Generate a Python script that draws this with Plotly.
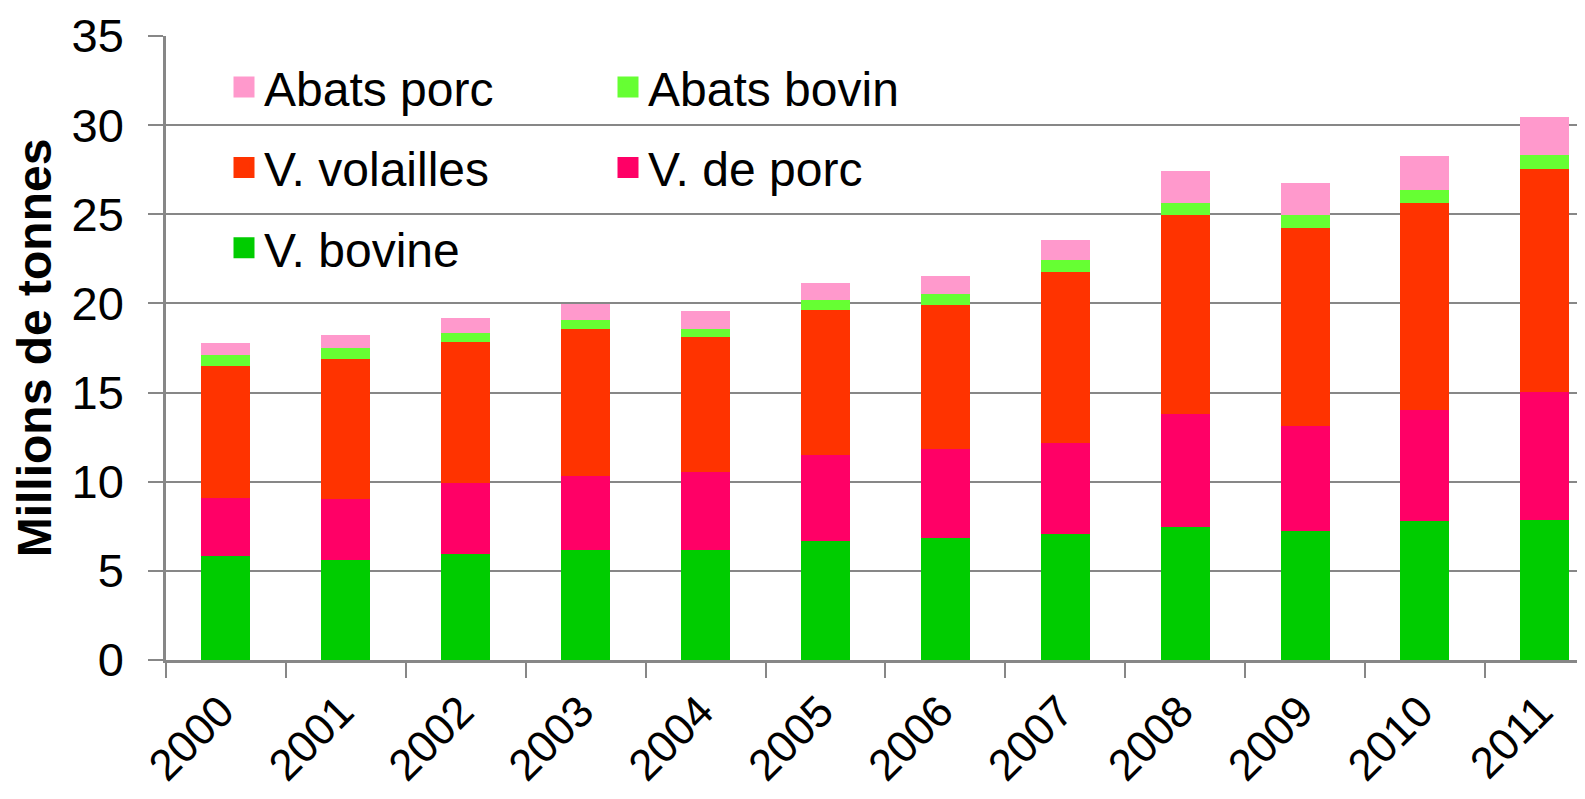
import plotly.graph_objects as go

years = [str(y) for y in range(2000, 2012)]
v_bovine = [5.81, 5.59, 5.96, 6.17, 6.18, 6.67, 6.87, 7.05, 7.47, 7.26, 7.77, 7.86]
v_porc = [3.30, 3.45, 3.99, 4.17, 4.39, 4.83, 4.98, 5.12, 6.35, 5.84, 6.28, 7.19]
v_volailles = [7.39, 7.87, 7.91, 8.23, 7.52, 8.15, 8.06, 9.61, 11.12, 11.14, 11.60, 12.51]
abats_bovin = [0.63, 0.58, 0.48, 0.50, 0.48, 0.52, 0.64, 0.66, 0.67, 0.70, 0.71, 0.77]
abats_porc = [0.65, 0.72, 0.86, 0.91, 1.01, 0.95, 0.97, 1.14, 1.84, 1.80, 1.91, 2.10]

series = [
    ("V. bovine", v_bovine, "#00CC00", "legend5"),
    ("V. de porc", v_porc, "#FF0066", "legend4"),
    ("V. volailles", v_volailles, "#FF3300", "legend3"),
    ("Abats bovin", abats_bovin, "#66FF33", "legend2"),
    ("Abats porc", abats_porc, "#FF99CC", "legend"),
]

FONT = "Liberation Sans, Arial, sans-serif"
GRID = "#878787"

fig = go.Figure()
for name, vals, col, leg in series:
    fig.add_trace(go.Bar(x=years, y=vals, name=name, marker=dict(color=col, line=dict(width=0)),
                         showlegend=False))
for name, vals, col, leg in series:
    fig.add_trace(go.Scatter(x=[None], y=[None], mode="markers", name=name, legend=leg,
                             marker=dict(symbol="square", size=16, color=col,
                                         line=dict(width=5, color=col)),
                             showlegend=True))

# page body has an 8px offset; compensate so the plot lands where the reference has it
OFF = 8
W, H = 1585, 799
L, R, T, B = 166 - OFF, OFF, 35.5 - OFF, 799 - (660.5 - OFF)
pw, ph = W - L - R, H - T - B

def px(x):
    return (x - OFF - L) / pw

def py(y):
    return (H - B - (y - OFF)) / ph

col_x = [px(224), px(608)]
row_y = [py(87), py(167.5), py(248)]
leg_pos = {
    "legend": (col_x[0], row_y[0]),
    "legend2": (col_x[1], row_y[0]),
    "legend3": (col_x[0], row_y[1]),
    "legend4": (col_x[1], row_y[1]),
    "legend5": (col_x[0], row_y[2]),
}
leg_layout = {}
for k, (lx, ly) in leg_pos.items():
    leg_layout[k] = dict(x=lx, y=ly, xanchor="left", yanchor="middle",
                         bgcolor="rgba(0,0,0,0)", borderwidth=0,
                         font=dict(family=FONT, size=48, color="black"),
                         itemwidth=30)

fig.update_layout(
    width=W, height=H,
    margin=dict(l=L, r=R, t=T, b=B, pad=0, autoexpand=False),
    barmode="stack",
    bargap=0.592,
    plot_bgcolor="white",
    paper_bgcolor="white",
    font=dict(family=FONT, color="black"),
    xaxis=dict(type="category", range=[-0.5, -0.5 + pw / 119.9], automargin=False,
               showline=True, linecolor=GRID, linewidth=2.5,
               ticks="outside", tickson="boundaries", ticklen=15, tickcolor=GRID, tickwidth=2,
               tickangle=-45, ticklabelstandoff=5, ticklabelshift=-5,
               tickfont=dict(family=FONT, size=44, color="black"),
               showgrid=False),
    yaxis=dict(range=[0, 35], dtick=5, tick0=0, automargin=False,
               showline=True, linecolor=GRID, linewidth=2.5,
               ticks="outside", ticklen=15, tickcolor=GRID, tickwidth=2,
               ticklabelstandoff=15,
               tickfont=dict(family=FONT, size=47, color="black"),
               showgrid=True, gridcolor=GRID, gridwidth=2,
               zeroline=False,
               title=dict(text="<b>Millions de tonnes</b>", standoff=5,
                          font=dict(family=FONT, size=48, color="black"))),
    **leg_layout,
)

fig.write_html("out.html")
